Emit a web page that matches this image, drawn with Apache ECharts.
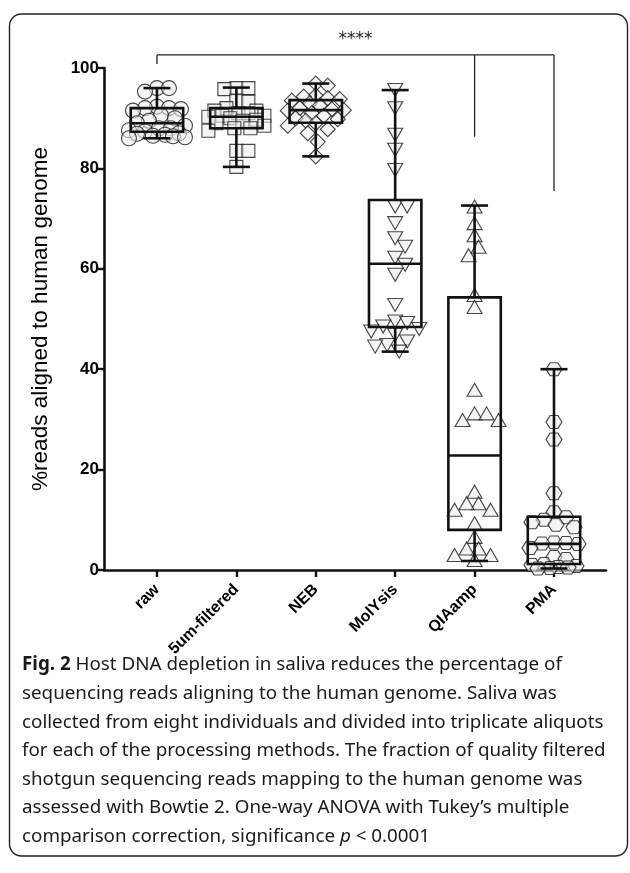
<!DOCTYPE html>
<html><head><meta charset="utf-8">
<script src="https://cdn.jsdelivr.net/npm/echarts@6/dist/echarts.min.js"></script>
<style>html,body{margin:0;padding:0;background:#fff}#c{width:630px;height:873px}</style>
</head><body><div id="c"></div>
<script>
// ---- data ----
const categories = ['raw', '5um-filtered', 'NEB', 'MolYsis', 'QIAamp', 'PMA'];
const rawVals = [96, 96, 95.3, 92.3, 92, 92, 91.8, 91.5, 90.6, 90, 89.5, 89, 88.5, 88, 88, 87.6, 87.4, 87, 86.9, 86.7, 86.5, 86.4, 86.2, 86];
const filteredVals = [96, 96, 95.8, 93.5, 93.3, 92, 91.5, 91.5, 91, 91, 90.5, 90.5, 90.3, 90, 89.7, 89.5, 89, 88.5, 88, 88, 87.5, 83.5, 83.5, 80.3];
const nebVals = [96.9, 96.5, 94.5, 94.3, 94, 93.8, 93.5, 93, 92.5, 92, 91.8, 91.6, 91.5, 91, 90.5, 90, 89.8, 89.5, 89, 88.5, 87.8, 87, 85.3, 82.4];
const molysisVals = [95.6, 92, 86.7, 83.7, 79.7, 72.4, 72.4, 69.1, 66.1, 64.4, 62.2, 60.8, 58.8, 52.8, 49.5, 49.2, 48.5, 48, 47.5, 46.8, 45.5, 44.8, 44.5, 43.5];
const qiaampVals = [72.4, 69.1, 66.7, 64.4, 62.7, 54.8, 52.4, 35.9, 31.2, 31.2, 29.9, 29.9, 15.6, 13.3, 13.3, 12, 12, 9.3, 6.6, 4.3, 4.3, 3.0, 3.0, 2.0];
const pmaVals = [40, 29.5, 26, 15.3, 11.5, 10.5, 10, 9.5, 9, 8.5, 5.5, 5.4, 5.3, 5.2, 4.4, 2.6, 2.2, 1.2, 1.0, 0.8, 0.6, 0.5, 0.4, 0.3];
// box statistics: [min, Q1, median, Q3, max]
const boxMin    = [86,   80.3, 82.4, 43.5, 1.8,  0.3];
const boxQ1     = [87.3, 88,   89.1, 48.4, 8.0,  1.2];
const boxMedian = [89,   90.3, 91.6, 61,   22.8, 5.2];
const boxQ3     = [92,   92,   93.6, 73.7, 54.3, 10.6];
const boxMax    = [96,   96.1, 96.9, 95.6, 72.6, 40];
const yTicks = [0, 20, 40, 60, 80, 100];
// significance bracket (data units)
const bracketLegs = [0, 4, 5];
const bracketLegEnds = [100.8, 86.3, 75.5];
const bracketTop = 102.6;
const bracketLabel = '****';
const yAxisTitle = '%reads aligned to human genome';
const captionLines = [
  ['{b|Fig. 2} Host DNA depletion in saliva reduces the percentage of'],
  ['sequencing reads aligning to the human genome. Saliva was'],
  ['collected from eight individuals and divided into triplicate aliquots'],
  ['for each of the processing methods. The fraction of quality filtered'],
  ['shotgun sequencing reads mapping to the human genome was'],
  ['assessed with Bowtie 2. One-way ANOVA with Tukey\u2019s multiple'],
  ['comparison correction, significance {i|p} < 0.0001']
];

// ---- layout ----
const G1 = {left: 104, top: 68, width: 502, height: 502};
const xMin = -0.667, xMax = 5.655;
const unitX = G1.width / (xMax - xMin);
const unitY = G1.height / 100;
const G0 = {left: G1.left + (-0.5 - xMin) * unitX, top: G1.top, width: categories.length * unitX, height: G1.height};

const groups = [rawVals, filteredVals, nebVals, molysisVals, qiaampVals, pmaVals];
const hexPath = 'path://M0,5 L2.6,0 L7.4,0 L10,5 L7.4,10 L2.6,10 Z';
const symbols = [
  {symbol: 'circle', size: 15, rotate: 0},
  {symbol: 'rect', size: 13, rotate: 0},
  {symbol: 'diamond', size: 15, rotate: 0},
  {symbol: 'triangle', size: [15, 13], rotate: 180},
  {symbol: 'triangle', size: [15, 13], rotate: 0},
  {symbol: hexPath, size: [16, 13], rotate: 0}
];

// simple beeswarm layout (pixel collision), returns x offsets in data units
function swarm(vals, minDist, step, maxOff) {
  const placed = [];
  const out = [];
  vals.forEach(v => {
    const py = v * unitY;
    let best = 0, bestScore = -1;
    for (let k = 0; k < 80; k++) {
      const m = Math.ceil(k / 2);
      const dx = (k % 2 === 1 ? 1 : -1) * m * step;
      if (Math.abs(dx) > maxOff) break;
      let dmin = Infinity;
      for (const p of placed) dmin = Math.min(dmin, Math.hypot(dx - p[0], py - p[1]));
      if (dmin >= minDist) { best = dx; bestScore = Infinity; break; }
      if (dmin > bestScore) { bestScore = dmin; best = dx; }
    }
    placed.push([best, py]);
    out.push(best / unitX);
  });
  return out;
}

const scatterSeries = groups.map((vals, i) => {
  const offs = swarm(vals, 12, 2, 28);
  return {
    type: 'scatter', xAxisIndex: 1, yAxisIndex: 1, z: 2,
    symbol: symbols[i].symbol, symbolSize: symbols[i].size, symbolRotate: symbols[i].rotate,
    itemStyle: {color: 'rgba(235,235,235,0.7)', borderColor: '#1a1a1a', borderWidth: 1.1},
    emphasis: {disabled: true},
    data: vals.map((v, j) => [i + offs[j], v])
  };
});

const boxData = categories.map((c, i) => [i, boxMin[i], boxQ1[i], boxMedian[i], boxQ3[i], boxMax[i]]);

const boxSeries = {
  type: 'custom', xAxisIndex: 1, yAxisIndex: 1, z: 5, silent: true,
  data: boxData,
  renderItem: function (params, api) {
    const x = api.value(0);
    const band = api.size([1, 0])[0];
    const hw = band * 0.33, cw = band * 0.17;
    const pMin = api.coord([x, api.value(1)]);
    const pQ1 = api.coord([x, api.value(2)]);
    const pMed = api.coord([x, api.value(3)]);
    const pQ3 = api.coord([x, api.value(4)]);
    const pMax = api.coord([x, api.value(5)]);
    const st = {stroke: '#111', lineWidth: 2.6, fill: null};
    const cx = pMed[0];
    return {
      type: 'group',
      children: [
        {type: 'rect', shape: {x: cx - hw, y: pQ3[1], width: 2 * hw, height: pQ1[1] - pQ3[1]}, style: st},
        {type: 'line', shape: {x1: cx - hw, y1: pMed[1], x2: cx + hw, y2: pMed[1]}, style: st},
        {type: 'line', shape: {x1: cx, y1: pQ3[1], x2: cx, y2: pMax[1]}, style: st},
        {type: 'line', shape: {x1: cx, y1: pQ1[1], x2: cx, y2: pMin[1]}, style: st},
        {type: 'line', shape: {x1: cx - cw, y1: pMax[1], x2: cx + cw, y2: pMax[1]}, style: st},
        {type: 'line', shape: {x1: cx - cw, y1: pMin[1], x2: cx + cw, y2: pMin[1]}, style: st}
      ]
    };
  }
};

const chart = echarts.init(document.getElementById('c'), null, {renderer: 'canvas'});
const fontAx = '"Liberation Sans", Arial, sans-serif';
const option = {
  animation: false,
  backgroundColor: '#fff',
  grid: [
    Object.assign({containLabel: false}, G0),
    Object.assign({containLabel: false}, G1)
  ],
  xAxis: [
    {
      type: 'category', gridIndex: 0, data: categories,
      axisLine: {show: false},
      axisTick: {show: true, alignWithLabel: true, length: 7, lineStyle: {color: '#111', width: 2.4}},
      axisLabel: {rotate: 45, margin: 17, color: '#000', fontFamily: fontAx, fontWeight: 'bold', fontSize: 16, interval: 0},
      splitLine: {show: false}
    },
    {
      type: 'value', gridIndex: 1, min: xMin, max: xMax,
      axisLine: {show: true, onZero: false, lineStyle: {color: '#111', width: 2.6}},
      axisTick: {show: false}, axisLabel: {show: false}, splitLine: {show: false}
    }
  ],
  yAxis: [
    {type: 'value', gridIndex: 0, min: 0, max: 100, show: false},
    {
      type: 'value', gridIndex: 1, min: yTicks[0], max: yTicks[yTicks.length - 1], interval: 20,
      name: yAxisTitle, nameLocation: 'middle', nameGap: 52,
      nameTextStyle: {fontFamily: fontAx, fontSize: 22.6, color: '#000'},
      axisLine: {show: true, onZero: false, lineStyle: {color: '#111', width: 2.6}},
      axisTick: {show: true, length: 6, lineStyle: {color: '#111', width: 2.4}},
      axisLabel: {margin: 5, color: '#000', fontFamily: fontAx, fontWeight: 'bold', fontSize: 17},
      splitLine: {show: false}
    }
  ],
  series: scatterSeries.concat([boxSeries])
};
chart.setOption(option);

// significance bracket + frame + caption
const toPx = (x, y) => chart.convertToPixel({xAxisIndex: 1, yAxisIndex: 1}, [x, y]);
const graphics = [];
const topL = toPx(bracketLegs[0], bracketTop);
const topR = toPx(bracketLegs[bracketLegs.length - 1], bracketTop);
graphics.push({type: 'line', shape: {x1: topL[0], y1: topL[1], x2: topR[0], y2: topR[1]}, style: {stroke: '#222', lineWidth: 1.3}, z: 10});
bracketLegs.forEach((c, k) => {
  const a = toPx(c, bracketTop), b = toPx(c, bracketLegEnds[k]);
  graphics.push({type: 'line', shape: {x1: a[0], y1: a[1], x2: b[0], y2: b[1]}, style: {stroke: '#222', lineWidth: 1.3}, z: 10});
});
graphics.push({type: 'text', x: (topL[0] + topR[0]) / 2, y: topL[1] - 15, z: 10,
  style: {text: bracketLabel, fill: '#222', font: '17px "DejaVu Sans", sans-serif', textAlign: 'center', textVerticalAlign: 'middle'}});
graphics.push({type: 'rect', shape: {x: 9.5, y: 14, width: 618, height: 842, r: 12}, z: 0,
  style: {fill: null, stroke: '#222', lineWidth: 1.4}});
const capFont = '"Noto Sans", "Open Sans", sans-serif';
const capSize = 18.8;
captionLines.forEach((ln, k) => {
  graphics.push({type: 'text', x: 22, y: 665 + k * 28.6, z: 10,
    style: {text: ln[0], fill: '#1a1a1a', fontFamily: capFont, fontSize: capSize, textVerticalAlign: 'middle',
      rich: {b: {fontWeight: 'bold', fontFamily: capFont, fontSize: capSize}, i: {fontStyle: 'italic', fontFamily: capFont, fontSize: capSize}}}});
});
chart.setOption({graphic: graphics});
</script></body></html>
